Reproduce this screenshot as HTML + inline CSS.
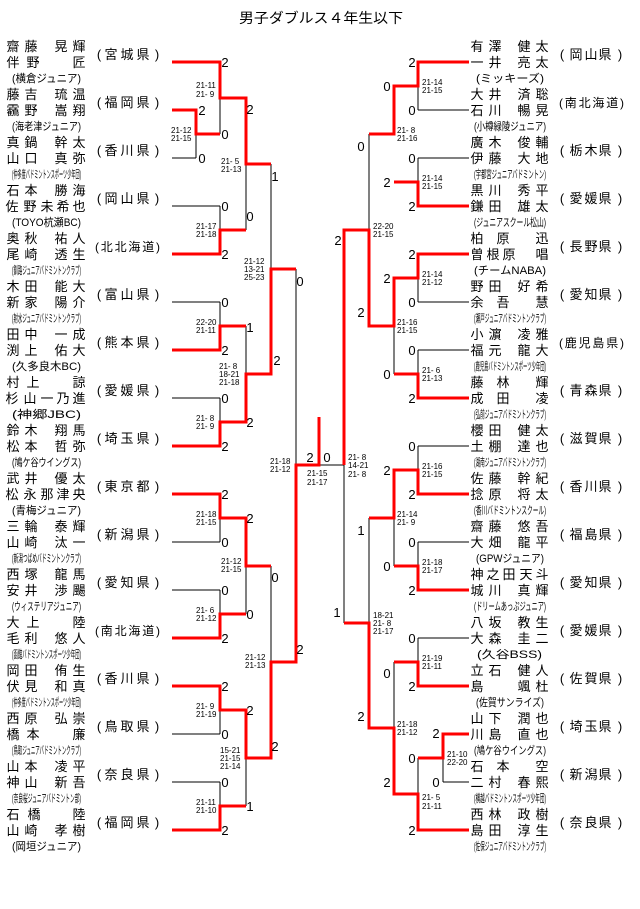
<!DOCTYPE html>
<html><head><meta charset="utf-8"><style>
html,body{margin:0;padding:0;background:#fff}
svg{display:block}
text{font-family:"Liberation Sans","Noto Sans CJK JP",sans-serif;fill:#000}
.n{font-size:13px;text-anchor:middle}
.c{font-size:11px}
.p{font-size:13px;text-anchor:middle}
.p4{font-size:12px}
.s{font-size:8px}
.d{font-size:13px;text-anchor:middle}
.r{stroke:#f00;stroke-width:3;fill:none}
.k{stroke:#000;stroke-width:1;fill:none}
</style></head><body>
<svg width="640" height="909" viewBox="0 0 640 909" xmlns="http://www.w3.org/2000/svg">
<text x="239" y="23" font-size="14" textLength="164" lengthAdjust="spacingAndGlyphs">男子ダブルス４年生以下</text>

<path class="k" d="M172 158H196M196 134V158M220 98V134M172 206H220M220 206V230M246 164V230M172 302H220M220 302V326M172 398H220M220 398V422M246 326V374M271 164V269M172 542H220M220 518V542M172 590H220M220 590V614M246 566V614M172 734H220M220 710V734M172 782H220M220 782V806M246 758V806M271 566V662M296 269V465M319 465H344"/>
<path class="k" d="M469 110H418M418 86V110M469 158H418M418 158V182M394 86V134M469 302H418M418 278V302M469 350H418M418 350V374M394 326V374M369 134V230M344 465V623M469 446H418M418 446V470M469 542H418M418 542V566M394 518V566M369 518V623M469 638H418M418 638V662M469 782H443M443 758V782M418 758V794M394 662V728"/>
<path class="r" d="M172 62H220V98H246V164H271M172 110H196V134H220M172 254H220V230H246M172 350H220V326H246M172 446H220V422H246V374H271V269H296M172 494H220V518H246V566H271M172 638H220V614H246M172 686H220V710H246V758H271V662H296V465H319V417M172 830H220V806H246"/>
<path class="r" d="M469 62H418V86H394V134H369M469 206H418V182H394M469 254H418V278H394V326H369V230H344V465M469 398H418V374H394M469 494H418V470H394V518H369M469 590H418V566H394M469 686H418V662H394M469 734H443V758H418M469 830H418V794H394V728H369V623H344"/>

<g class="s">
<text x="196" y="88">21-11</text><text x="196" y="97">21- 9</text>
<text x="171" y="133">21-12</text><text x="171" y="141">21-15</text>
<text x="221" y="164">21- 5</text><text x="221" y="172">21-13</text>
<text x="196" y="229">21-17</text><text x="196" y="237">21-18</text>
<text x="244" y="264">21-12</text><text x="244" y="272">13-21</text><text x="244" y="280">25-23</text>
<text x="196" y="325">22-20</text><text x="196" y="333">21-11</text>
<text x="219" y="369">21- 8</text><text x="219" y="377">18-21</text><text x="219" y="385">21-18</text>
<text x="196" y="421">21- 8</text><text x="196" y="429">21- 9</text>
<text x="270" y="464">21-18</text><text x="270" y="472">21-12</text>
<text x="307" y="476">21-15</text><text x="307" y="485">21-17</text>
<text x="196" y="517">21-18</text><text x="196" y="525">21-15</text>
<text x="221" y="564">21-12</text><text x="221" y="572">21-15</text>
<text x="196" y="613">21- 6</text><text x="196" y="621">21-12</text>
<text x="245" y="660">21-12</text><text x="245" y="668">21-13</text>
<text x="196" y="709">21- 9</text><text x="196" y="717">21-19</text>
<text x="220" y="753">15-21</text><text x="220" y="761">21-15</text><text x="220" y="769">21-14</text>
<text x="196" y="805">21-11</text><text x="196" y="813">21-10</text>

<text x="422" y="85">21-14</text><text x="422" y="93">21-15</text>
<text x="397" y="133">21- 8</text><text x="397" y="141">21-16</text>
<text x="422" y="181">21-14</text><text x="422" y="189">21-15</text>
<text x="373" y="229">22-20</text><text x="373" y="237">21-15</text>
<text x="422" y="277">21-14</text><text x="422" y="285">21-12</text>
<text x="397" y="325">21-16</text><text x="397" y="333">21-15</text>
<text x="422" y="373">21- 6</text><text x="422" y="381">21-13</text>
<text x="348" y="460">21- 8</text><text x="348" y="468">14-21</text><text x="348" y="477">21- 8</text>
<text x="422" y="469">21-16</text><text x="422" y="477">21-15</text>
<text x="397" y="517">21-14</text><text x="397" y="525">21- 9</text>
<text x="422" y="565">21-18</text><text x="422" y="573">21-17</text>
<text x="373" y="618">18-21</text><text x="373" y="626">21- 8</text><text x="373" y="634">21-17</text>
<text x="422" y="661">21-19</text><text x="422" y="669">21-11</text>
<text x="397" y="727">21-18</text><text x="397" y="735">21-12</text>
<text x="447" y="757">21-10</text><text x="447" y="765">22-20</text>
<text x="422" y="800">21- 5</text><text x="422" y="809">21-11</text>
</g>

<g class="d">
<text x="225" y="67">2</text><text x="225" y="139">0</text><text x="202" y="115">2</text><text x="202" y="163">0</text>
<text x="225" y="211">0</text><text x="225" y="259">2</text><text x="250" y="114">2</text><text x="250" y="221">0</text>
<text x="275" y="181">1</text><text x="277" y="365">2</text><text x="225" y="307">0</text><text x="225" y="355">2</text>
<text x="250" y="332">1</text><text x="250" y="427">2</text><text x="225" y="403">0</text><text x="225" y="451">2</text>
<text x="300" y="286">0</text><text x="300" y="654">2</text><text x="310" y="462">2</text><text x="327" y="462">0</text>
<text x="225" y="499">2</text><text x="250" y="523">2</text><text x="225" y="547">0</text><text x="225" y="595">0</text>
<text x="250" y="619">0</text><text x="225" y="643">2</text><text x="275" y="582">0</text><text x="225" y="691">2</text>
<text x="250" y="715">2</text><text x="225" y="739">0</text><text x="275" y="751">2</text><text x="225" y="787">0</text>
<text x="250" y="811">1</text><text x="225" y="835">2</text>

<text x="412" y="67">2</text><text x="412" y="115">0</text><text x="387" y="91">0</text><text x="412" y="163">0</text>
<text x="412" y="211">2</text><text x="387" y="187">2</text><text x="361" y="151">0</text><text x="338" y="245">2</text>
<text x="412" y="259">2</text><text x="387" y="283">2</text><text x="412" y="307">0</text><text x="361" y="317">2</text>
<text x="412" y="355">0</text><text x="387" y="379">0</text><text x="412" y="403">2</text><text x="387" y="475">2</text>
<text x="412" y="451">0</text><text x="412" y="499">2</text><text x="361" y="535">1</text><text x="412" y="547">0</text>
<text x="387" y="571">0</text><text x="412" y="595">2</text><text x="337" y="617">1</text><text x="412" y="643">0</text>
<text x="387" y="678">0</text><text x="412" y="691">2</text><text x="361" y="721">2</text><text x="436" y="738">2</text>
<text x="436" y="787">0</text><text x="412" y="763">0</text><text x="387" y="787">2</text><text x="412" y="835">2</text>
</g>

<g transform="translate(0,62)"><text class="n" x="13 31 61 79" y="-11">齋藤晃輝</text><text class="n" x="13 33 79" y="5">伴野匠</text><text class="c" x="12" y="20" textLength="69" lengthAdjust="spacingAndGlyphs">(横倉ジュニア)</text><text class="p" x="99 111 127 143 157" y="-3">(宮城県)</text></g>
<g transform="translate(0,110)"><text class="n" x="13 31 61 79" y="-11">藤吉琉温</text><text class="n" x="13 31 61 79" y="5">靏野嵩翔</text><text class="c" x="12" y="20" textLength="69" lengthAdjust="spacingAndGlyphs">(海老津ジュニア)</text><text class="p" x="99 111 127 143 157" y="-3">(福岡県)</text></g>
<g transform="translate(0,158)"><text class="n" x="13 31 61 79" y="-11">真鍋幹太</text><text class="n" x="13 31 61 79" y="5">山口真弥</text><text class="c" x="12" y="20" textLength="69" lengthAdjust="spacingAndGlyphs">(仲多度バドミントンスポーツ少年団)</text><text class="p" x="99 111 127 143 157" y="-3">(香川県)</text></g>
<g transform="translate(0,206)"><text class="n" x="13 31 61 79" y="-11">石本勝海</text><text class="n" x="12 30 47 63 79" y="5">佐野未希也</text><text class="c" x="12" y="20" textLength="69" lengthAdjust="spacingAndGlyphs">(TOYO杭瀬BC)</text><text class="p" x="99 111 127 143 157" y="-3">(岡山県)</text></g>
<g transform="translate(0,254)"><text class="n" x="13 31 61 79" y="-11">奥秋祐人</text><text class="n" x="13 31 61 79" y="5">尾崎透生</text><text class="c" x="12" y="20" textLength="69" lengthAdjust="spacingAndGlyphs">(釧路ジュニアバドミントンクラブ)</text><text class="p4" x="95" y="-3" textLength="65" lengthAdjust="spacing">(北北海道)</text></g>
<g transform="translate(0,302)"><text class="n" x="13 31 61 79" y="-11">木田能大</text><text class="n" x="13 31 61 79" y="5">新家陽介</text><text class="c" x="12" y="20" textLength="69" lengthAdjust="spacingAndGlyphs">(射水ジュニアバドミントンクラブ)</text><text class="p" x="99 111 127 143 157" y="-3">(富山県)</text></g>
<g transform="translate(0,350)"><text class="n" x="13 31 61 79" y="-11">田中一成</text><text class="n" x="13 31 61 79" y="5">渕上佑大</text><text class="c" x="12" y="20" textLength="69" lengthAdjust="spacingAndGlyphs">(久多良木BC)</text><text class="p" x="99 111 127 143 157" y="-3">(熊本県)</text></g>
<g transform="translate(0,398)"><text class="n" x="13 33 79" y="-11">村上諒</text><text class="n" x="12 30 47 63 79" y="5">杉山一乃進</text><text class="c" x="12" y="20" textLength="69" lengthAdjust="spacingAndGlyphs">(神郷JBC)</text><text class="p" x="99 111 127 143 157" y="-3">(愛媛県)</text></g>
<g transform="translate(0,446)"><text class="n" x="13 31 61 79" y="-11">鈴木翔馬</text><text class="n" x="13 31 61 79" y="5">松本哲弥</text><text class="c" x="12" y="20" textLength="69" lengthAdjust="spacingAndGlyphs">(鳩ケ谷ウイングス)</text><text class="p" x="99 111 127 143 157" y="-3">(埼玉県)</text></g>
<g transform="translate(0,494)"><text class="n" x="13 31 61 79" y="-11">武井優太</text><text class="n" x="12 30 47 63 79" y="5">松永那津央</text><text class="c" x="12" y="20" textLength="69" lengthAdjust="spacingAndGlyphs">(青梅ジュニア)</text><text class="p" x="99 111 127 143 157" y="-3">(東京都)</text></g>
<g transform="translate(0,542)"><text class="n" x="13 31 61 79" y="-11">三輪泰輝</text><text class="n" x="13 31 61 79" y="5">山崎汰一</text><text class="c" x="12" y="20" textLength="69" lengthAdjust="spacingAndGlyphs">(新潟つばめバドミントンクラブ)</text><text class="p" x="99 111 127 143 157" y="-3">(新潟県)</text></g>
<g transform="translate(0,590)"><text class="n" x="13 31 61 79" y="-11">西塚龍馬</text><text class="n" x="13 31 61 79" y="5">安井渉颺</text><text class="c" x="12" y="20" textLength="69" lengthAdjust="spacingAndGlyphs">(ウィステリアジュニア)</text><text class="p" x="99 111 127 143 157" y="-3">(愛知県)</text></g>
<g transform="translate(0,638)"><text class="n" x="13 33 79" y="-11">大上陸</text><text class="n" x="13 31 61 79" y="5">毛利悠人</text><text class="c" x="12" y="20" textLength="69" lengthAdjust="spacingAndGlyphs">(函館バドミントンスポーツ少年団)</text><text class="p4" x="95" y="-3" textLength="65" lengthAdjust="spacing">(南北海道)</text></g>
<g transform="translate(0,686)"><text class="n" x="13 31 61 79" y="-11">岡田侑生</text><text class="n" x="13 31 61 79" y="5">伏見和真</text><text class="c" x="12" y="20" textLength="69" lengthAdjust="spacingAndGlyphs">(仲多度バドミントンスポーツ少年団)</text><text class="p" x="99 111 127 143 157" y="-3">(香川県)</text></g>
<g transform="translate(0,734)"><text class="n" x="13 31 61 79" y="-11">西原弘崇</text><text class="n" x="13 33 79" y="5">橋本廉</text><text class="c" x="12" y="20" textLength="69" lengthAdjust="spacingAndGlyphs">(鳥取ジュニアバドミントンクラブ)</text><text class="p" x="99 111 127 143 157" y="-3">(鳥取県)</text></g>
<g transform="translate(0,782)"><text class="n" x="13 31 61 79" y="-11">山本凌平</text><text class="n" x="13 31 61 79" y="5">神山新吾</text><text class="c" x="12" y="20" textLength="69" lengthAdjust="spacingAndGlyphs">(奈良桜ジュニアバドミントン部)</text><text class="p" x="99 111 127 143 157" y="-3">(奈良県)</text></g>
<g transform="translate(0,830)"><text class="n" x="13 34 79" y="-11">石橋陸</text><text class="n" x="13 31 61 79" y="5">山崎孝樹</text><text class="c" x="12" y="20" textLength="69" lengthAdjust="spacingAndGlyphs">(岡垣ジュニア)</text><text class="p" x="99 111 127 143 157" y="-3">(福岡県)</text></g>

<g transform="translate(0,62)"><text class="n" x="477 495 524 542" y="-11">有澤健太</text><text class="n" x="477 495 524 542" y="5">一井亮太</text><text class="c" x="476" y="20" textLength="68" lengthAdjust="spacingAndGlyphs">(ミッキーズ)</text><text class="p" x="562 576 591 605 620" y="-3">(岡山県)</text></g>
<g transform="translate(0,110)"><text class="n" x="477 495 524 542" y="-11">大井済聡</text><text class="n" x="477 495 524 542" y="5">石川暢晃</text><text class="c" x="474" y="20" textLength="72" lengthAdjust="spacingAndGlyphs">(小樽緑陵ジュニア)</text><text class="p4" x="559" y="-3" textLength="65" lengthAdjust="spacing">(南北海道)</text></g>
<g transform="translate(0,158)"><text class="n" x="477 495 524 542" y="-11">廣木俊輔</text><text class="n" x="477 495 524 542" y="5">伊藤大地</text><text class="c" x="474" y="20" textLength="72" lengthAdjust="spacingAndGlyphs">(宇都宮ジュニアバドミントン)</text><text class="p" x="562 576 591 605 620" y="-3">(栃木県)</text></g>
<g transform="translate(0,206)"><text class="n" x="477 495 524 542" y="-11">黒川秀平</text><text class="n" x="477 495 524 542" y="5">鎌田雄太</text><text class="c" x="474" y="20" textLength="72" lengthAdjust="spacingAndGlyphs">(ジュニアスクール松山)</text><text class="p" x="562 576 591 605 620" y="-3">(愛媛県)</text></g>
<g transform="translate(0,254)"><text class="n" x="477 503 542" y="-11">柏原迅</text><text class="n" x="477 493 509 542" y="5">曽根原唱</text><text class="c" x="474" y="20" textLength="72" lengthAdjust="spacingAndGlyphs">(チームNABA)</text><text class="p" x="562 576 591 605 620" y="-3">(長野県)</text></g>
<g transform="translate(0,302)"><text class="n" x="477 495 524 542" y="-11">野田好希</text><text class="n" x="477 503 542" y="5">余吾慧</text><text class="c" x="474" y="20" textLength="72" lengthAdjust="spacingAndGlyphs">(瀬戸ジュニアバドミントンクラブ)</text><text class="p" x="562 576 591 605 620" y="-3">(愛知県)</text></g>
<g transform="translate(0,350)"><text class="n" x="477 495 524 542" y="-11">小濵凌雅</text><text class="n" x="477 495 524 542" y="5">福元龍大</text><text class="c" x="474" y="20" textLength="72" lengthAdjust="spacingAndGlyphs">(鹿児島バドミントンスポーツ少年団)</text><text class="p4" x="559" y="-3" textLength="65" lengthAdjust="spacing">(鹿児島県)</text></g>
<g transform="translate(0,398)"><text class="n" x="477 503 542" y="-11">藤林輝</text><text class="n" x="477 503 542" y="5">成田凌</text><text class="c" x="474" y="20" textLength="72" lengthAdjust="spacingAndGlyphs">(弘前ジュニアバドミントンクラブ)</text><text class="p" x="562 576 591 605 620" y="-3">(青森県)</text></g>
<g transform="translate(0,446)"><text class="n" x="477 495 524 542" y="-11">櫻田健太</text><text class="n" x="477 495 524 542" y="5">土棚達也</text><text class="c" x="474" y="20" textLength="72" lengthAdjust="spacingAndGlyphs">(湖南ジュニアバドミントンクラブ)</text><text class="p" x="562 576 591 605 620" y="-3">(滋賀県)</text></g>
<g transform="translate(0,494)"><text class="n" x="477 495 524 542" y="-11">佐藤幹紀</text><text class="n" x="477 495 524 542" y="5">捻原将太</text><text class="c" x="474" y="20" textLength="72" lengthAdjust="spacingAndGlyphs">(香川バドミントンスクール)</text><text class="p" x="562 576 591 605 620" y="-3">(香川県)</text></g>
<g transform="translate(0,542)"><text class="n" x="477 495 524 542" y="-11">齋藤悠吾</text><text class="n" x="477 495 524 542" y="5">大畑龍平</text><text class="c" x="476" y="20" textLength="68" lengthAdjust="spacingAndGlyphs">(GPWジュニア)</text><text class="p" x="562 576 591 605 620" y="-3">(福島県)</text></g>
<g transform="translate(0,590)"><text class="n" x="477 493 509 526 542" y="-11">神之田天斗</text><text class="n" x="477 495 524 542" y="5">城川真輝</text><text class="c" x="474" y="20" textLength="72" lengthAdjust="spacingAndGlyphs">(ドリームあっぷジュニア)</text><text class="p" x="562 576 591 605 620" y="-3">(愛知県)</text></g>
<g transform="translate(0,638)"><text class="n" x="477 495 524 542" y="-11">八坂教生</text><text class="n" x="477 495 524 542" y="5">大森圭二</text><text class="c" x="477" y="20" textLength="65" lengthAdjust="spacingAndGlyphs">(久谷BSS)</text><text class="p" x="562 576 591 605 620" y="-3">(愛媛県)</text></g>
<g transform="translate(0,686)"><text class="n" x="477 495 524 542" y="-11">立石健人</text><text class="n" x="477 524 542" y="5">島颯杜</text><text class="c" x="476" y="20" textLength="68" lengthAdjust="spacingAndGlyphs">(佐賀サンライズ)</text><text class="p" x="562 576 591 605 620" y="-3">(佐賀県)</text></g>
<g transform="translate(0,734)"><text class="n" x="477 495 524 542" y="-11">山下潤也</text><text class="n" x="477 495 524 542" y="5">川島直也</text><text class="c" x="474" y="20" textLength="72" lengthAdjust="spacingAndGlyphs">(鳩ケ谷ウイングス)</text><text class="p" x="562 576 591 605 620" y="-3">(埼玉県)</text></g>
<g transform="translate(0,782)"><text class="n" x="477 503 542" y="-11">石本空</text><text class="n" x="477 495 524 542" y="5">二村春熙</text><text class="c" x="474" y="20" textLength="72" lengthAdjust="spacingAndGlyphs">(横越バドミントンスポーツ少年団)</text><text class="p" x="562 576 591 605 620" y="-3">(新潟県)</text></g>
<g transform="translate(0,830)"><text class="n" x="477 495 524 542" y="-11">西林政樹</text><text class="n" x="477 495 524 542" y="5">島田淳生</text><text class="c" x="474" y="20" textLength="72" lengthAdjust="spacingAndGlyphs">(佐保ジュニアバドミントンクラブ)</text><text class="p" x="562 576 591 605 620" y="-3">(奈良県)</text></g>
</svg>
</body></html>
